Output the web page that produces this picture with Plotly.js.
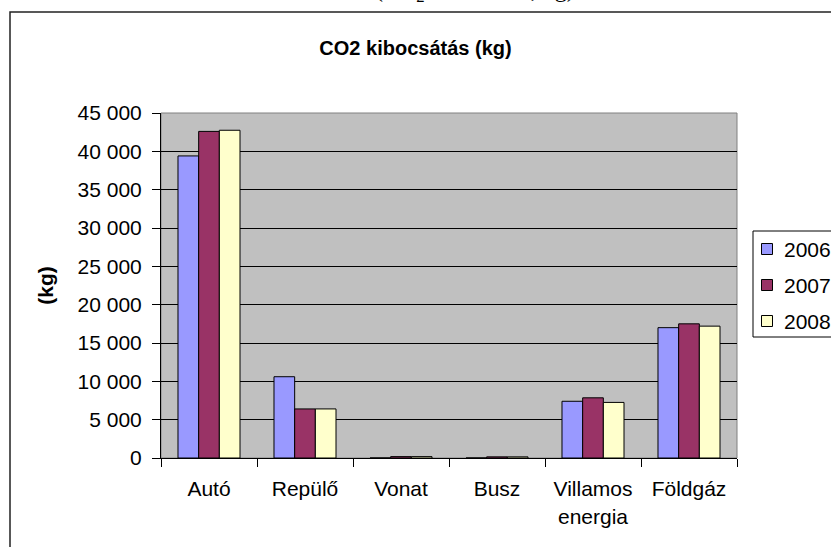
<!DOCTYPE html>
<html>
<head>
<meta charset="utf-8">
<script src="https://cdn.plot.ly/plotly-3.0.1.min.js"></script>
<style>
html,body{margin:0;padding:0;background:#fff;}
#chart{width:831px;height:547px;}
</style>
</head>
<body>
<div id="chart"></div>
<script>
const categories = ["Autó", "Repülő", "Vonat", "Busz", "Villamos<br>energia", "Földgáz"];
const seriesNames = ["2006", "2007", "2008"];
const values2006 = [39400, 10600, 0, 0, 7400, 17000];
const values2007 = [42600, 6400, 180, 150, 7850, 17500];
const values2008 = [42750, 6400, 180, 150, 7250, 17200];
const colors = ["#9999FF", "#993366", "#FFFFCC"];
const yTickVals = [0, 5000, 10000, 15000, 20000, 25000, 30000, 35000, 40000, 45000];

const allValues = [values2006, values2007, values2008];
const traces = allValues.map((vals, i) => ({
  type: "bar",
  name: seriesNames[i],
  x: categories,
  y: vals,
  showlegend: false,
  marker: {color: colors[i], line: {color: "#000", width: 1}},
  hoverinfo: "x+y+name"
}));

// pixel -> paper helpers (plot area: x 161..737, y 113..458)
const M = {l: 161, r: 94, t: 113, b: 89};
const PW = 831 - M.l - M.r, PH = 547 - M.t - M.b;
const px = v => (v - M.l) / PW;
const py = v => (547 - M.b - v) / PH;

const FONT = "Liberation Sans, Arial, sans-serif";

// hand-built legend (box runs past the right edge like the reference)
const legendShapes = [
  {type: "rect", xref: "paper", yref: "paper", x0: px(753), x1: px(900), y0: py(231), y1: py(337),
   line: {color: "#000", width: 1}, fillcolor: "#fff", layer: "above"}
];
const legendTexts = [];
seriesNames.forEach((name, i) => {
  const cy = 249 + i * 36;
  legendShapes.push({type: "rect", xref: "paper", yref: "paper",
    x0: px(761.5), x1: px(772.5), y0: py(cy - 5.5), y1: py(cy + 5.5),
    line: {color: "#000", width: 1}, fillcolor: colors[i], layer: "above"});
  legendTexts.push({text: name, xref: "paper", yref: "paper", x: px(782), y: py(cy),
    xanchor: "left", yanchor: "middle", showarrow: false,
    font: {family: FONT, size: 21, color: "#000"}});
});

const layout = {
  width: 831,
  height: 547,
  margin: {l: M.l, r: M.r, t: M.t, b: M.b, autoexpand: false},
  paper_bgcolor: "#ffffff",
  plot_bgcolor: "#c0c0c0",
  separators: ", ",
  font: {family: FONT, size: 21, color: "#000"},
  bargap: 0.354,
  bargroupgap: 0,
  showlegend: false,
  title: {
    text: "<b>CO2 kibocsátás (kg)</b>",
    font: {family: FONT, size: 20, color: "#000"},
    xref: "container", x: 0.5, xanchor: "center",
    yref: "container", y: 1 - 48 / 547, yanchor: "middle"
  },
  xaxis: {
    type: "category",
    showline: true, linecolor: "#000", linewidth: 1,
    ticks: "outside", tickson: "boundaries", ticklen: 8, tickcolor: "#000",
    ticklabelstandoff: 12,
    showgrid: false, zeroline: false,
    tickfont: {family: FONT, size: 21, color: "#000"},
    fixedrange: true
  },
  yaxis: {
    range: [0, 45000],
    tickvals: yTickVals,
    tickformat: ",d",
    separatethousands: true,
    showline: true, linecolor: "#000", linewidth: 1,
    ticks: "outside", ticklen: 8, tickcolor: "#000",
    ticklabelstandoff: 6,
    showgrid: true, gridcolor: "#000", gridwidth: 1,
    zeroline: false,
    tickfont: {family: FONT, size: 21, color: "#000"},
    title: {text: "<b>(kg)</b>", font: {family: FONT, size: 21, color: "#000"}, standoff: 18},
    fixedrange: true
  },
  shapes: [
    {type: "rect", xref: "paper", yref: "paper", x0: 0, x1: 1, y0: 0, y1: 1,
     line: {color: "#808080", width: 1}, layer: "below"},
    {type: "rect", xref: "paper", yref: "paper",
     x0: px(10), x1: 1.4, y0: py(12), y1: -0.5,
     line: {color: "#222", width: 1.5}, fillcolor: "rgba(0,0,0,0)", layer: "below"}
  ].concat(legendShapes),
  annotations: [
    {text: "(CO<sub>2</sub> kibocsátás, kg)", xref: "paper", yref: "paper",
     x: px(475), y: py(-9), xanchor: "center", yanchor: "middle",
     showarrow: false, font: {family: "Liberation Serif, Times New Roman, serif", size: 24, color: "#000"}}
  ].concat(legendTexts)
};

Plotly.newPlot("chart", traces, layout, {displayModeBar: false, staticPlot: true});
</script>
</body>
</html>
